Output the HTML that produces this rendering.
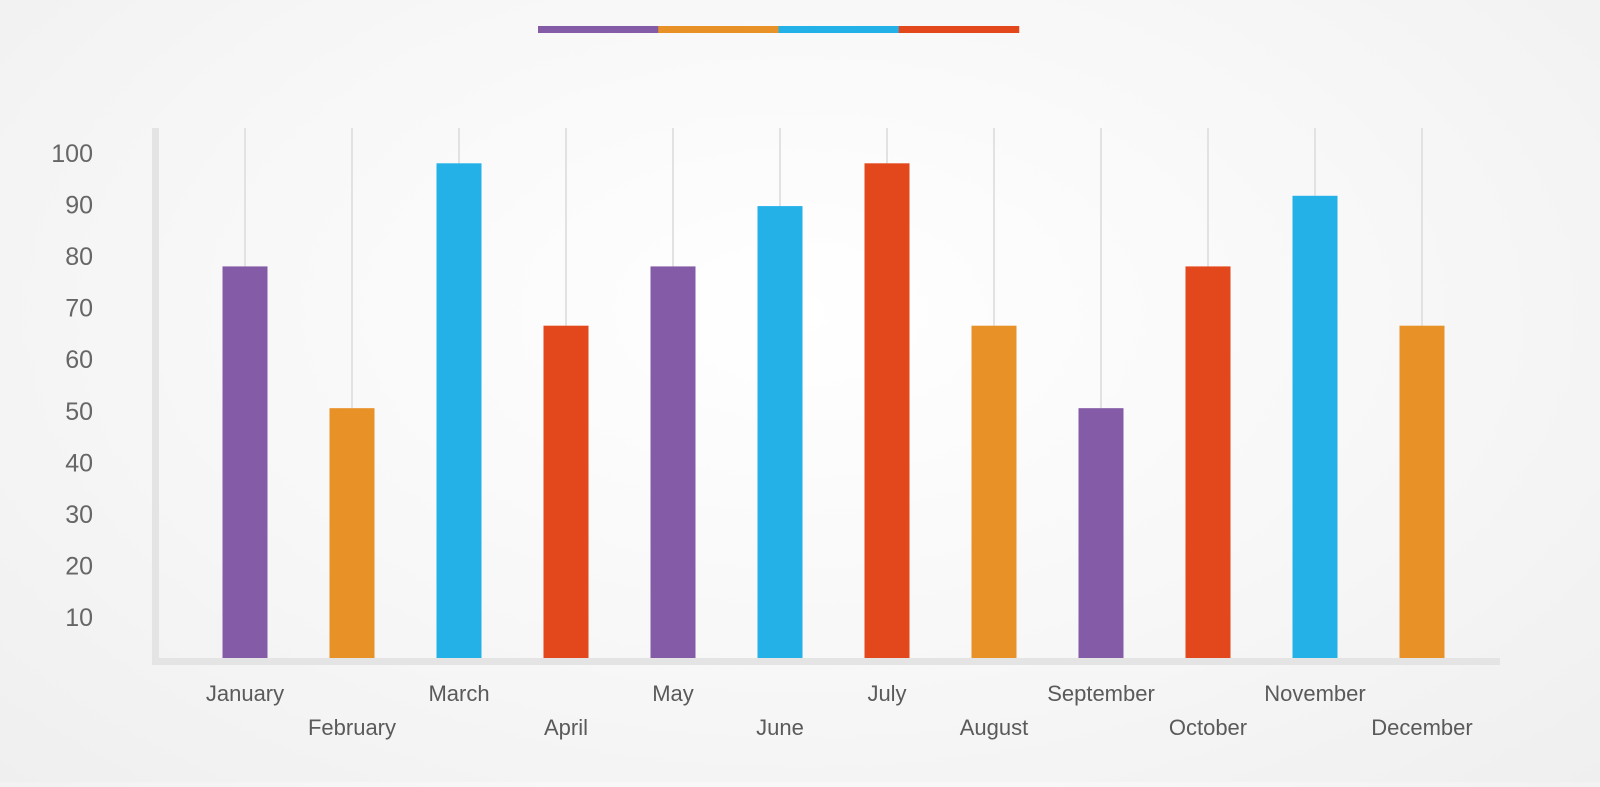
<!DOCTYPE html>
<html><head><meta charset="utf-8"><style>
body{margin:0;width:1600px;height:782px;overflow:hidden;background:radial-gradient(ellipse at 50% 40%,#ffffff 0%,#f7f7f7 55%,#efefef 100%);font-family:"Liberation Sans",sans-serif;}
</style></head><body>
<svg id="chart" width="1600" height="782" xmlns="http://www.w3.org/2000/svg">
<g id="legend"></g>
<g id="grid"></g>
<rect x="152" y="128" width="7" height="537" fill="#e4e4e4"/>
<rect x="152" y="658" width="1348" height="7" fill="#e4e4e4"/>
<g id="bars"></g>
<g id="ylabels"></g>
<g id="xlabels"></g>
</svg>
<script>
const categories=["January","February","March","April","May","June","July","August","September","October","November","December"];
const values=[78,50.5,98,66.5,78,89.7,98,66.5,50.5,78,91.7,66.5];
const colorIndex=[0,1,2,3,0,2,3,1,0,3,2,1];
const yTicks=[10,20,30,40,50,60,70,80,90,100];
const palette=["#845ba6","#e89126","#23b1e8","#e3471c"];
const NS="http://www.w3.org/2000/svg";
const y=v=>668.5-5.155*v;
const x=i=>245+107*i;
function mk(tag,attrs,parent){const e=document.createElementNS(NS,tag);for(const k in attrs)e.setAttribute(k,attrs[k]);document.getElementById(parent).appendChild(e);return e;}
palette.forEach((c,i)=>{const r=mk('rect',{x:538+120.25*i,y:26,width:120.5,height:7,fill:c},'legend');

});
categories.forEach((c,i)=>{
const g=mk('rect',{x:x(i)-1,y:128,width:2,height:y(values[i])-128,fill:"#e2e2e2"},'grid');


const b=mk('rect',{x:x(i)-22.5,y:y(values[i]),width:45,height:658-y(values[i]),fill:palette[colorIndex[i]]},'bars');


const t=mk('text',{x:x(i),y:i%2===0?701:735,'text-anchor':'middle','font-size':22,fill:'#5a5a5a'},'xlabels');
t.textContent=c;


});
yTicks.forEach(v=>{const t=mk('text',{x:93,y:y(v)+9,'text-anchor':'end','font-size':25,fill:'#666'},'ylabels');
t.textContent=v;

});
</script>
</body></html>
